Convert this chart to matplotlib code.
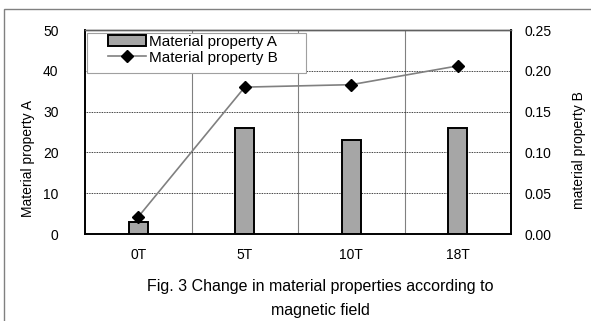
import matplotlib
matplotlib.use('Agg')
import matplotlib.pyplot as plt
from matplotlib.patches import Rectangle

# data
fields = ['0T', '5T', '10T', '18T']
prop_a = [3, 26, 23, 26]
prop_b = [0.021, 0.180, 0.183, 0.206]

plt.rcParams['font.family'] = ['Liberation Sans', 'DejaVu Sans']

W, H = 591, 321
fig = plt.figure(figsize=(W / 100, H / 100), dpi=100)


def px(x, y):
    # pixel position (from top-left) -> figure fraction
    return x / W, 1 - y / H


# plot area in pixels: x 85..511, y 30..234
ax = fig.add_axes([85 / W, 1 - 234 / H, (511 - 85) / W, (234 - 30) / H])
ax2 = ax.twinx()

x = list(range(len(fields)))
bars = ax.bar(x, prop_a, width=0.18, color='#a6a6a6', edgecolor='black',
              linewidth=1.4, zorder=3)
ax.set_xlim(-0.5, 3.5)
ax.set_ylim(0, 50)
ax.set_yticks([0, 10, 20, 30, 40, 50])
ax.set_xticks(x)
ax.set_xticklabels(fields)
ax.set_xticks([0.5, 1.5, 2.5], minor=True)
ax.grid(axis='y', which='major', color='black', linestyle=(0, (1, 1)), linewidth=0.6, zorder=0)
ax.grid(axis='x', which='minor', color='#808080', linestyle='-', linewidth=0.8, zorder=0)
ax.tick_params(axis='y', which='both', length=0, labelsize=10, pad=19)
ax.tick_params(axis='x', which='both', length=0, labelsize=10, pad=10)

line, = ax2.plot(x, prop_b, color='#808080', linewidth=1.2, marker='D',
                 markersize=6.5, markerfacecolor='black', markeredgecolor='black', zorder=4)
ax2.set_ylim(0, 0.25)
b_ticks = [0, 0.05, 0.10, 0.15, 0.20, 0.25]
ax2.set_yticks(b_ticks)
ax2.set_yticklabels(['%.2f' % v for v in b_ticks])
ax2.tick_params(axis='y', length=0, labelsize=10, pad=9.5)

for a in (ax, ax2):
    for s in ('left', 'bottom', 'right'):
        a.spines[s].set_color('black')
        a.spines[s].set_linewidth(1.2)
    a.spines['top'].set_color('#606060')
    a.spines['top'].set_linewidth(1.0)

# axis titles placed like the reference (not centred on the plot)
fig.text(*px(28, 159), 'Material property A', rotation=90, ha='center', va='center', fontsize=10)
fig.text(*px(579, 150), 'material property B', rotation=90, ha='center', va='center', fontsize=10)

# legend: text/handles without frame, box drawn separately
leg = fig.legend([bars, line], ['Material property A', 'Material property B'],
                 loc='upper left', bbox_to_anchor=px(108, 35), fontsize=11,
                 frameon=False, borderpad=0, labelspacing=0.1,
                 handlelength=2.5, handletextpad=0.2, borderaxespad=0)
fig.patches.append(Rectangle(px(87, 73), 219 / W, 40 / H, transform=fig.transFigure,
                             facecolor='white', edgecolor='#a0a0a0', linewidth=0.8, zorder=5))
leg.set_zorder(6)

# outer frame (cut off at right and bottom in the reference)
fig.patches.append(Rectangle((4 / W, -0.1), 1.2, 1 - 9 / H + 0.1, transform=fig.transFigure,
                             fill=False, edgecolor='#808080', linewidth=1.0))

fig.text(*px(320, 286), 'Fig. 3 Change in material properties according to',
         ha='center', va='center', fontsize=11.5)
fig.text(*px(320, 310), 'magnetic field', ha='center', va='center', fontsize=11.5)

fig.savefig('out.png', dpi=100)
